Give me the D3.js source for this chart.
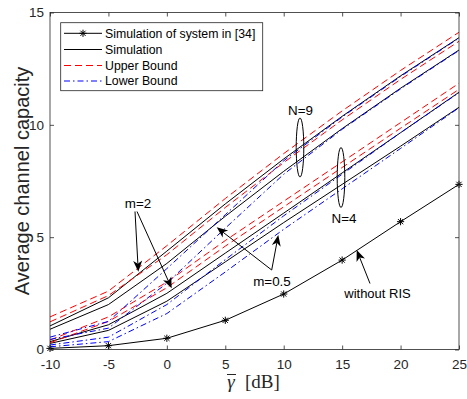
<!DOCTYPE html>
<html><head><meta charset="utf-8">
<script src="https://cdn.jsdelivr.net/npm/d3@7"></script>
<style>body{margin:0;background:#fff}</style></head>
<body><svg id="c" width="467" height="399"></svg>
<script>
const snr = [-10,-5,0,5,10,15,20,25];
const withoutRIS = [0.05,0.17,0.5,1.3,2.47,3.98,5.69,7.35];
const n9m2Sim   = [1.05,2.3,4.38,6.48,8.48,10.38,12.18,13.88];
const n9m05Sim  = [0.9,2.0,3.83,5.93,7.93,9.83,11.63,13.33];
const n4m2Sim   = [0.35,1.1,2.5,4.29,6.07,7.86,9.65,11.45];
const n4m05Sim  = [0.27,0.85,2.15,3.9,5.65,7.35,9.05,10.78];
const n9m2Up    = [1.45,2.6,4.62,6.72,8.72,10.62,12.42,14.12];
const n9m05Up   = [1.23,2.4,4.22,6.32,8.32,10.22,12.02,13.72];
const n4m2Up    = [0.42,1.45,3.0,4.85,6.6,8.35,10.1,11.85];
const n4m05Up   = [0.3,1.25,2.75,4.6,6.35,8.1,9.85,11.58];
const n9m2Low   = [0.55,1.25,3.6,6.0,8.4,10.35,12.15,13.86];
const n9m05Low  = [0.45,0.95,2.95,5.4,7.8,9.8,11.6,13.31];
const n4m2Low   = [0.2,0.55,2.0,4.0,5.95,7.8,9.65,11.43];
const n4m05Low  = [0.12,0.35,1.6,3.45,5.35,7.15,8.95,10.76];
const xTicks = [-10,-5,0,5,10,15,20,25];
const yTicks = [0,5,10,15];
const legendLabels = ["Simulation of system in [34]","Simulation","Upper Bound","Lower Bound"];

const svg = d3.select("#c");
const L=50,R=459,T=12.5,B=349.5;
const x = d3.scaleLinear([-10,25],[L,R]);
const y = d3.scaleLinear([0,15],[B,T]);
const AX="#262626";
const font="'Liberation Sans', Arial, sans-serif";

const line = d3.line().x((d,i)=>x(snr[i])).y(d=>y(d));
const plot = svg.append("g");
function draw(arr, color, dash){
  plot.append("path").attr("d", line(arr)).attr("fill","none")
    .attr("stroke",color).attr("stroke-width",1)
    .attr("stroke-dasharray", dash||null);
}
function star(g, cx, cy){
  const r=3.6, q=r*0.72;
  g.append("path").attr("d",`M${cx-r},${cy}L${cx+r},${cy}M${cx},${cy-r}L${cx},${cy+r}M${cx-q},${cy-q}L${cx+q},${cy+q}M${cx-q},${cy+q}L${cx+q},${cy-q}`)
    .attr("stroke","#000").attr("stroke-width",1).attr("fill","none");
}
draw(withoutRIS,"#000");
withoutRIS.forEach((v,i)=>star(plot,x(snr[i]),y(v)));
[n9m2Sim,n9m05Sim,n4m2Sim,n4m05Sim].forEach(a=>draw(a,"#000"));
[n9m2Up,n9m05Up,n4m2Up,n4m05Up].forEach(a=>draw(a,"#ff0000","7,4"));
[n9m2Low,n9m05Low,n4m2Low,n4m05Low].forEach(a=>draw(a,"#0000ff","6,3,1.5,3"));

// axes
const gb = svg.append("g").attr("transform",`translate(0,${B})`)
  .call(d3.axisBottom(x).tickValues(xTicks).tickSizeInner(-4).tickSizeOuter(0).tickPadding(9.5));
const gl = svg.append("g").attr("transform",`translate(${L},0)`)
  .call(d3.axisLeft(y).tickValues(yTicks).tickSizeInner(-4).tickSizeOuter(0).tickPadding(6));
const gt = svg.append("g").attr("transform",`translate(0,${T})`)
  .call(d3.axisTop(x).tickValues(xTicks).tickSizeInner(-4).tickSizeOuter(0).tickFormat(""));
const gr = svg.append("g").attr("transform",`translate(${R},0)`)
  .call(d3.axisRight(y).tickValues(yTicks).tickSizeInner(-4).tickSizeOuter(0).tickFormat(""));
[gb,gl,gt,gr].forEach(g=>{
  g.select(".domain").remove();
  g.selectAll("line").attr("stroke",AX).attr("stroke-width",0.8);
  g.selectAll("text").attr("fill",AX).style("font-family",font).style("font-size","13.5px");
});
gb.selectAll("text").text(d=>d<0?"-"+Math.abs(d):d);
svg.append("rect").attr("x",L).attr("y",T).attr("width",R-L).attr("height",B-T)
  .attr("fill","none").attr("stroke",AX).attr("stroke-width",0.8);

// labels
svg.append("text").attr("transform",`translate(22,${(T+B)/2}) rotate(-90)`)
  .attr("text-anchor","middle").attr("dy","0.35em")
  .style("font-family",font).style("font-size","20px").attr("fill",AX)
  .text("Average channel capacity");
const serif="'Liberation Serif','DejaVu Serif',serif";
svg.append("text").attr("x",231).attr("y",388).attr("text-anchor","middle")
  .style("font-family",serif).style("font-style","italic").style("font-size","19px").attr("fill",AX)
  .text("\u03B3");
svg.append("line").attr("x1",227).attr("x2",236).attr("y1",374.5).attr("y2",374.5)
  .attr("stroke",AX).attr("stroke-width",1);
svg.append("text").attr("x",245).attr("y",388)
  .style("font-family",serif).style("font-size","19px").attr("fill",AX)
  .text("[dB]");

// legend
const lg = svg.append("g");
lg.append("rect").attr("x",60.7).attr("y",22.7).attr("width",202).attr("height",68)
  .attr("fill","#fff").attr("stroke",AX).attr("stroke-width",0.8);
const ly=[33.3,49.5,65.5,81];
const styles=[["#000",null],["#000",null],["#ff0000","7,4"],["#0000ff","6,3,1.5,3"]];
legendLabels.forEach((t,i)=>{
  lg.append("line").attr("x1",64).attr("x2",102).attr("y1",ly[i]).attr("y2",ly[i])
    .attr("stroke",styles[i][0]).attr("stroke-width",1).attr("stroke-dasharray",styles[i][1]);
  lg.append("text").attr("x",105).attr("y",ly[i]).attr("dy","0.35em")
    .style("font-family",font).style("font-size","12.3px").attr("fill","#000").text(t);
});
star(lg,83,ly[0]);

// annotations
function arrow(x1,y1,x2,y2){
  const ang=Math.atan2(y2-y1,x2-x1), hl=11, hw=4.5, back=3;
  const bx=x2-hl*Math.cos(ang), by=y2-hl*Math.sin(ang);
  const ix=x2-(hl-back)*Math.cos(ang), iy=y2-(hl-back)*Math.sin(ang);
  const px=-Math.sin(ang), py=Math.cos(ang);
  svg.append("line").attr("x1",x1).attr("y1",y1).attr("x2",ix).attr("y2",iy)
    .attr("stroke","#000").attr("stroke-width",1);
  svg.append("path").attr("d",`M${x2},${y2}L${bx+px*hw},${by+py*hw}L${ix},${iy}L${bx-px*hw},${by-py*hw}Z`)
    .attr("fill","#000");
}
function label(t,cx,cy,fs){
  svg.append("text").attr("x",cx).attr("y",cy).attr("dy","0.35em").attr("text-anchor","middle")
    .style("font-family",font).style("font-size",(fs||13.4)+"px").attr("fill","#000").text(t);
}
label("m=2",138,203);
arrow(135,211.5,138.3,271.7);
arrow(137,211.5,171.7,288.3);
label("m=0.5",272,281);
arrow(271.7,270,216.7,227.3);
arrow(271.7,270,278.3,235);
label("N=9",300.5,110);
svg.append("ellipse").attr("cx",300).attr("cy",147.5).attr("rx",3.8).attr("ry",29.5)
  .attr("fill","none").attr("stroke","#000").attr("stroke-width",1);
label("N=4",344,218);
svg.append("ellipse").attr("cx",341).attr("cy",177.5).attr("rx",3.8).attr("ry",30)
  .attr("fill","none").attr("stroke","#000").attr("stroke-width",1);
label("without RIS",377.5,293,13);
arrow(370,283.5,356.7,250);
</script></body></html>
